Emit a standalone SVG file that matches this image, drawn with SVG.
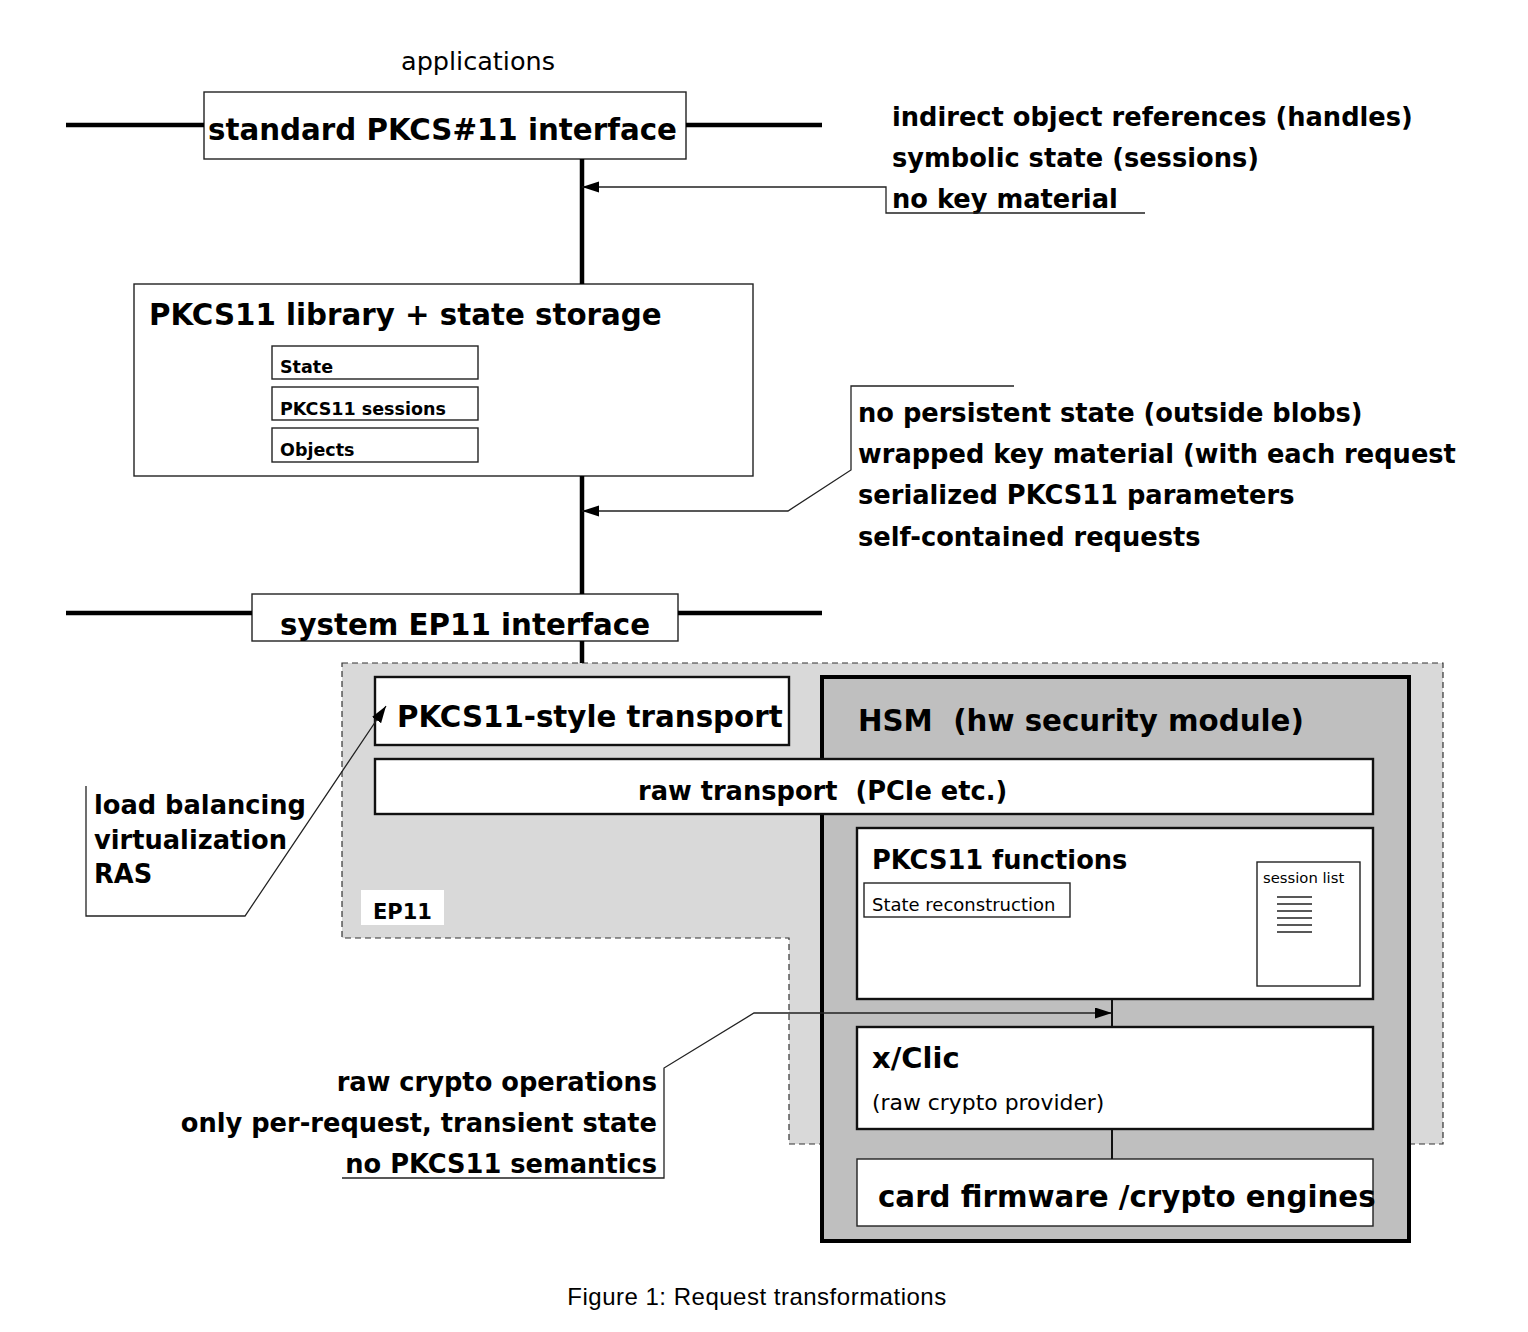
<svg xmlns="http://www.w3.org/2000/svg" width="1528" height="1332" viewBox="0 0 1528 1332">
<defs>
<style>
text{font-family:"DejaVu Sans","Liberation Sans",sans-serif;fill:#000;white-space:pre}
.b{font-weight:bold}
.big{font-size:29.3px;font-weight:bold}
.med{font-size:25.7px;font-weight:bold}
.box{fill:#fff;stroke:#222;stroke-width:1.4}
.box2{fill:#fff;stroke:#111;stroke-width:2.4}
.bus{stroke:#000;stroke-width:4.5;fill:none}
.call{stroke:#222;stroke-width:1.3;fill:none}
.link{stroke:#111;stroke-width:2;fill:none}
</style>
<marker id="ah" markerUnits="userSpaceOnUse" markerWidth="18" markerHeight="12" refX="17" refY="5.5" orient="auto">
<path d="M0,0 L17,5.5 L0,11 z" fill="#000"/>
</marker>
</defs>
<rect width="1528" height="1332" fill="#fff"/>

<g id="ep11-region">
<path d="M342,663 H1443 V1144 H789 V938 H342 Z" fill="#d9d9d9" stroke="#333" stroke-width="1.2" stroke-dasharray="6,4"/>
<rect x="361" y="890" width="83" height="35" fill="#fff"/>
<text x="373" y="919" class="b" style="font-size:21px">EP11</text>
</g>

<g id="hsm">
<rect x="822" y="677" width="587" height="564" fill="#bfbfbf" stroke="#000" stroke-width="4"/>
<text x="858" y="731" class="big">HSM  (hw security module)</text>
</g>

<g id="applications">
<text x="478" y="70" text-anchor="middle" style="font-size:25.5px">applications</text>
</g>

<g id="pkcs11-interface">
<rect class="box" x="204" y="92" width="482" height="67"/>
<text x="208" y="140" class="big">standard PKCS#11 interface</text>
</g>

<g id="note-top">
<text x="892" y="126" class="med">indirect object references (handles)</text>
<text x="892" y="167" class="med">symbolic state (sessions)</text>
<text x="892" y="208" class="med">no key material</text>
</g>

<g id="pkcs11-library">
<rect class="box" x="134" y="284" width="619" height="192"/>
<text x="149" y="325" class="big">PKCS11 library + state storage</text>
<rect class="box" x="272" y="346" width="206" height="33"/>
<text x="280" y="373" class="b" style="font-size:17.5px">State</text>
<rect class="box" x="272" y="387" width="206" height="33"/>
<text x="280" y="415" class="b" style="font-size:17.5px">PKCS11 sessions</text>
<rect class="box" x="272" y="428" width="206" height="34"/>
<text x="280" y="456" class="b" style="font-size:17.5px">Objects</text>
</g>

<g id="note-middle">
<text x="858" y="422" class="med">no persistent state (outside blobs)</text>
<text x="858" y="463" class="med">wrapped key material (with each request</text>
<text x="858" y="504" class="med">serialized PKCS11 parameters</text>
<text x="858" y="546" class="med">self-contained requests</text>
</g>

<g id="ep11-interface">
<rect class="box" x="252" y="594" width="426" height="47"/>
<text x="280" y="635" class="big">system EP11 interface</text>
</g>

<g id="pkcs11-transport">
<rect class="box2" x="375" y="677" width="414" height="68"/>
<text x="397" y="727" class="big">PKCS11-style transport</text>
</g>

<g id="raw-transport">
<rect class="box2" x="375" y="759" width="998" height="55"/>
<text x="638" y="800" class="med">raw transport  (PCIe etc.)</text>
</g>

<g id="note-left">
<text x="94" y="814" class="med">load balancing</text>
<text x="94" y="849" class="med">virtualization</text>
<text x="94" y="883" class="med">RAS</text>
</g>

<g id="pkcs11-functions">
<rect class="box2" x="857" y="828" width="516" height="171"/>
<text x="872" y="869" class="med">PKCS11 functions</text>
<rect class="box" x="864" y="883" width="206" height="34"/>
<text x="872" y="911" style="font-size:18px">State reconstruction</text>
</g>

<g id="session-list">
<rect class="box" x="1257" y="862" width="103" height="124"/>
<text x="1263" y="883" style="font-size:14.8px">session list</text>
<path d="M1277,897 H1312 M1277,904 H1312 M1277,911 H1312 M1277,918 H1312 M1277,925 H1312 M1277,932 H1312" stroke="#222" stroke-width="1.3"/>
</g>

<g id="xclic">
<rect class="box2" x="857" y="1027" width="516" height="102"/>
<text x="872" y="1068" class="b" style="font-size:29px">x/Clic</text>
<text x="872" y="1110" style="font-size:21.9px">(raw crypto provider)</text>
</g>

<g id="card-firmware">
<rect class="box" x="857" y="1159" width="516" height="67"/>
<text x="878" y="1207" class="big">card firmware /crypto engines</text>
</g>

<g id="note-bottom">
<text x="657" y="1091" text-anchor="end" class="med">raw crypto operations</text>
<text x="657" y="1132" text-anchor="end" class="med">only per-request, transient state</text>
<text x="657" y="1173" text-anchor="end" class="med">no PKCS11 semantics</text>
</g>

<g id="connectors">
<line class="bus" x1="66" y1="125" x2="204" y2="125"/>
<line class="bus" x1="686" y1="125" x2="822" y2="125"/>
<line class="bus" x1="66" y1="613" x2="252" y2="613"/>
<line class="bus" x1="678" y1="613" x2="822" y2="613"/>
<line class="bus" x1="582" y1="159" x2="582" y2="284"/>
<line class="bus" x1="582" y1="476" x2="582" y2="594"/>
<line class="bus" x1="582" y1="641" x2="582" y2="663"/>
<polyline class="call" points="1145,213 886,213 886,187 582,187" marker-end="url(#ah)"/>
<polyline class="call" points="1014,386 851,386 851,470 788,511 582,511" marker-end="url(#ah)"/>
<polyline class="call" points="86,786 86,916 245,916 386,706" marker-end="url(#ah)"/>
<polyline class="call" points="342,1178 664,1178 664,1068 754,1013 1112,1013" marker-end="url(#ah)"/>
<line class="link" x1="1112" y1="999" x2="1112" y2="1027"/>
<line class="link" x1="1112" y1="1129" x2="1112" y2="1159"/>
</g>

<g id="caption">
<text x="757" y="1305" text-anchor="middle" style="font-family:'Liberation Sans',sans-serif;font-size:24px;letter-spacing:0.5px">Figure 1: Request transformations</text>
</g>
</svg>
